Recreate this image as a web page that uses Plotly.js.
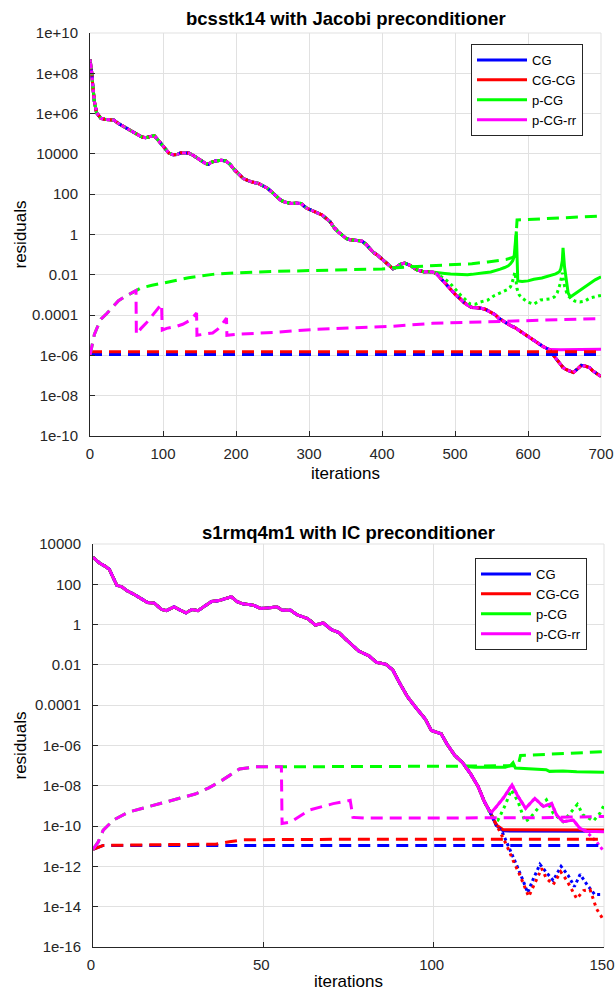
<!DOCTYPE html>
<html>
<head>
<meta charset="utf-8">
<script src="https://cdn.plot.ly/plotly-3.0.1.min.js"></script>
<style>
  html, body { margin: 0; padding: 0; background: #fff; }
  #chart { width: 615px; height: 992px; }
</style>
</head>
<body>
<div id="chart"></div>
<script>
// ---------------- DATA: top chart (bcsstk14, Jacobi) ----------------
const topTitle = 'bcsstk14 with Jacobi preconditioner';
const botTitle = 's1rmq4m1 with IC preconditioner';
const seriesNames = ['CG', 'CG-CG', 'p-CG', 'p-CG-rr'];

const topXTicks = [0, 100, 200, 300, 400, 500, 600, 700];
const topYTicks = [1e10, 1e8, 1e6, 1e4, 1e2, 1, 1e-2, 1e-4, 1e-6, 1e-8, 1e-10];
const topYTickText = ['1e+10', '1e+08', '1e+06', '10000', '100', '1', '0.01', '0.0001', '1e-06', '1e-08', '1e-10'];

// shared residual curve (all methods coincide here)
const topIter = [0, 2, 4, 6, 9, 12, 15, 20, 28, 33, 39, 45, 50, 55, 60, 65, 70, 76, 82, 88, 92, 96, 100, 104, 108, 114, 119, 125, 130, 135, 140, 146, 152, 158, 162, 166, 172, 180, 186, 192, 198, 205, 210, 216, 222, 230, 237, 243, 248, 254, 260, 265, 270, 275, 282, 289, 293, 297, 303, 308, 313, 318, 323, 329, 334, 340, 346, 351, 356, 361, 367, 372, 378, 383, 388, 394, 400, 407, 411, 415, 420, 425, 431, 436, 439, 444, 447, 452, 458, 463, 469, 475, 480, 486, 491, 496, 501, 507, 512, 518, 523, 530, 536, 542, 549, 555, 560, 566, 571, 577, 582, 587, 592, 597, 603, 607, 611, 616, 621, 626, 630, 635, 640, 644, 648, 652, 657, 662, 667, 673, 679, 684, 688, 692, 696, 700];
const topRes = [4.8e8, 1.5e8, 2e7, 4e6, 1.1e6, 7.5e5, 5.8e5, 5.2e5, 5e5, 4.7e5, 3.2e5, 2.4e5, 1.9e5, 1.5e5, 1.15e5, 8.8e4, 7.2e4, 6.3e4, 7e4, 8.1e4, 5.5e4, 3.6e4, 2.5e4, 1.6e4, 1.1e4, 9e3, 9.3e3, 1.15e4, 1.1e4, 1.1e4, 9e3, 6.3e3, 4.8e3, 3.4e3, 3e3, 3.8e3, 4.5e3, 4.8e3, 4.5e3, 3e3, 1.6e3, 930, 600, 480, 400, 350, 260, 200, 140, 83, 55, 43, 38, 35, 36, 35, 26, 20, 16, 13.5, 11, 9.3, 6.5, 4.3, 2.3, 1.35, 0.9, 0.63, 0.55, 0.52, 0.5, 0.48, 0.33, 0.2, 0.13, 0.093, 0.06, 0.035, 0.025, 0.02, 0.024, 0.033, 0.038, 0.033, 0.029, 0.022, 0.018, 0.016, 0.014, 0.0145, 0.014, 0.011, 0.007, 0.004, 0.0024, 0.0015, 0.001, 6.5e-4, 4.3e-4, 3e-4, 2.4e-4, 2.3e-4, 2.2e-4, 1.9e-4, 1.45e-4, 1.05e-4, 7e-5, 5e-5, 3.8e-5, 2.9e-5, 2.4e-5, 1.8e-5, 1.3e-5, 1e-5, 7.5e-6, 5.8e-6, 4.5e-6, 3.4e-6, 2.7e-6, 2.2e-6, 1.9e-6, 1e-6, 6e-7, 3.5e-7, 2.5e-7, 2e-7, 1.6e-7, 1.4e-7, 2e-7, 3.2e-7, 2.9e-7, 2.5e-7, 1.8e-7, 1.4e-7, 1.1e-7, 9e-8];

// p-CG recursive residual after it leaves the shared curve
const topPcgIter = [469, 475, 486, 494, 501, 510, 517, 523, 530, 540, 549, 556, 562, 568, 573, 576, 579, 581, 583, 584, 586, 592, 600, 608, 619, 630, 638, 643, 645, 647, 648, 650, 652, 655, 658, 664, 672, 685, 692, 700];
const topPcgRes = [0.014, 0.0132, 0.0117, 0.011, 0.0105, 0.0102, 0.0102, 0.0105, 0.011, 0.0126, 0.0138, 0.0158, 0.019, 0.023, 0.028, 0.035, 0.05, 0.079, 0.4, 1.41, 0.005, 0.0046, 0.005, 0.006, 0.0069, 0.0087, 0.0112, 0.0141, 0.02, 0.05, 0.22, 0.025, 0.0063, 0.00126, 7.9e-4, 0.00112, 0.00178, 0.004, 0.0056, 0.0079];
// p-CG-rr recursive residual after it levels off
const topRrIter = [630, 645, 670, 700];
const topRrRes = [1.95e-6, 1.9e-6, 1.9e-6, 2e-6];
// p-CG true residual after it leaves the shared curve
const topPcgTrueIter = [486, 494, 501, 508, 515, 521, 528, 535, 545, 553, 562, 571, 576, 579, 582, 585, 588, 592, 599, 608, 617, 625, 630, 636, 640, 644, 647, 650, 654, 658, 664, 671, 678, 685, 692, 700];
const topPcgTrueRes = [0.0063, 0.00355, 0.00178, 9.5e-4, 5.6e-4, 3.5e-4, 3.5e-4, 4.5e-4, 5.6e-4, 8.9e-4, 0.00126, 0.00178, 0.0025, 0.005, 0.0135, 0.002, 0.001, 7.1e-4, 4.5e-4, 3.5e-4, 5.6e-4, 6.3e-4, 6.3e-4, 7.9e-4, 0.00126, 0.00355, 0.0126, 0.0028, 0.001, 7.1e-4, 5e-4, 4.5e-4, 5e-4, 7.1e-4, 7.9e-4, 9.5e-4];
// residual gaps (dashed)
const topGapCgIter = [0, 100, 200, 300, 400, 500, 600, 700];
const topGapCg = [1.1e-6, 1.1e-6, 1.1e-6, 1.1e-6, 1.1e-6, 1.1e-6, 1.1e-6, 1.1e-6];
const topGapCgcg = [1.5e-6, 1.5e-6, 1.5e-6, 1.5e-6, 1.5e-6, 1.5e-6, 1.5e-6, 1.5e-6];
const topGapRrIter = [0, 3, 6, 10, 15, 23, 31, 39, 47, 55, 63, 63.5, 70, 77, 84, 91, 98, 99, 105, 112, 119, 127, 135, 141, 146, 146.5, 152, 160, 168, 175, 181, 187, 187.5, 200, 254, 308, 361, 415, 469, 523, 576, 630, 700];
const topGapRr = [1e-6, 3.2e-6, 1.1e-5, 2.5e-5, 6.3e-5, 1.2e-4, 2.5e-4, 5.2e-4, 7.9e-4, 0.00112, 0.00166, 1.1e-5, 2.2e-5, 4e-5, 7.9e-5, 1.6e-4, 3.5e-4, 1.8e-5, 2.2e-5, 2.5e-5, 2.8e-5, 3.5e-5, 5e-5, 7.9e-5, 1.26e-4, 1e-5, 1.07e-5, 1.17e-5, 1.3e-5, 2e-5, 3.5e-5, 7.1e-5, 1e-5, 1.1e-5, 1.4e-5, 1.95e-5, 2.3e-5, 2.8e-5, 3.9e-5, 4.5e-5, 5e-5, 5.6e-5, 6.8e-5];
const topGapPcgIter = [70, 85, 103, 120, 135, 150, 168, 185, 200, 230, 254, 300, 350, 400, 430, 470, 500, 523, 545, 560, 570, 578, 582, 585, 600, 630, 660, 700];
const topGapPcg = [0.00224, 0.003, 0.0042, 0.0056, 0.0071, 0.0085, 0.0105, 0.0117, 0.0126, 0.0138, 0.0148, 0.0162, 0.0178, 0.0195, 0.024, 0.0275, 0.0316, 0.0355, 0.0437, 0.05, 0.0575, 0.0708, 0.083, 5.25, 5.6, 6.3, 7.2, 8.3];

// ---------------- DATA: bottom chart (s1rmq4m1, IC) ----------------
const botXTicks = [0, 50, 100, 150];
const botYTicks = [1e4, 1e2, 1, 1e-2, 1e-4, 1e-6, 1e-8, 1e-10, 1e-12, 1e-14, 1e-16];
const botYTickText = ['10000', '100', '1', '0.01', '0.0001', '1e-06', '1e-08', '1e-10', '1e-12', '1e-14', '1e-16'];

const botIter = [0, 1, 2, 3.5, 4.8, 6, 7, 8.5, 10, 12, 14, 16, 18, 20, 21.5, 23.8, 25.6, 27.3, 29, 30.8, 32.5, 34.8, 37, 38.8, 40.6, 42.3, 44, 47, 49.2, 52, 54, 55.5, 58, 60, 63, 65.3, 67.6, 70, 72.2, 74, 75.7, 78, 81, 83.2, 86, 88, 90, 92.4, 94.7, 97.6, 99.3, 100.5, 102.2, 104, 106.2, 108.5, 110.8, 113.1, 114.9, 116.5];
const botRes = [2200, 1600, 1100, 800, 550, 200, 89, 74, 48, 32, 21, 12.6, 11.5, 5.8, 4.9, 7.6, 5.2, 3.8, 5.6, 4.9, 7.6, 14, 15.5, 18.6, 24, 13.8, 10.7, 9.3, 6.3, 6.9, 7.6, 5.2, 5.1, 3.0, 2.0, 0.95, 1.2, 0.56, 0.4, 0.2, 0.105, 0.049, 0.028, 0.0135, 0.0107, 0.0056, 0.00126, 2.5e-4, 7.9e-5, 2e-5, 5.6e-6, 4.8e-6, 3.8e-6, 1.12e-6, 3.2e-7, 1.4e-7, 4e-8, 8.9e-9, 1.6e-9, 5.2e-10];

const botCgIter = [118.4, 120.4, 130, 140, 150];
const botCgRes = [1.07e-10, 5.8e-11, 5.6e-11, 5.6e-11, 5.6e-11];
const botCgcgIter = [118.4, 120.4, 130, 140, 150];
const botCgcgRes = [1.12e-10, 6.6e-11, 6.4e-11, 6.4e-11, 6.4e-11];
const botPcgIter = [109.5, 112, 116, 121, 122.5, 123.3, 124, 127, 130, 133, 134, 138, 142, 146, 150];
const botPcgRes = [8.9e-8, 8.3e-8, 8.3e-8, 8.3e-8, 1e-7, 1.4e-7, 7.6e-8, 7.2e-8, 6.9e-8, 6.3e-8, 5.2e-8, 5.4e-8, 5e-8, 5e-8, 4.7e-8];
const botRrIter = [117, 118, 120.4, 123, 124.8, 127, 129.7, 132.2, 134.6, 136.1, 138, 141, 142.9, 144.9, 147, 150];
const botRrRes = [5e-10, 7.6e-10, 2.4e-9, 1.1e-8, 2.9e-9, 7.6e-10, 2.4e-9, 9.3e-10, 1.35e-9, 3.5e-10, 1.66e-10, 2e-10, 7.8e-11, 5.6e-11, 5.4e-11, 5.2e-11];

const botCgTrueIter = [118.4, 120, 122, 124, 126, 127.6, 129.3, 131.2, 133.1, 135.1, 137.4, 139.5, 141.3, 143, 145, 147.3, 149.3];
const botCgTrueRes = [1.07e-10, 5.6e-11, 1e-11, 1.6e-12, 2.5e-13, 5e-14, 2.5e-13, 1.26e-12, 5e-13, 2e-13, 1e-12, 3.5e-13, 1e-13, 4e-13, 1.26e-13, 4e-14, 4e-14];
const botCgcgTrueIter = [118.4, 119.4, 121.4, 123.3, 125.3, 127.9, 129.7, 131.7, 133.1, 135.1, 137.3, 139, 142, 144, 145.9, 147.8, 150];
const botCgcgTrueRes = [1.12e-10, 5.2e-11, 1.15e-11, 2e-12, 3.7e-13, 3.2e-14, 1.6e-13, 7.9e-13, 2.5e-13, 1.26e-13, 5.4e-13, 2.1e-13, 2.5e-14, 6.3e-14, 7.1e-14, 7.9e-15, 2e-15];
const botPcgTrueIter = [117, 118.9, 121, 122.8, 124.8, 126.8, 128.2, 130.2, 133.1, 135.1, 138, 140.5, 142.2, 143.9, 146.9, 148.8, 150];
const botPcgTrueRes = [3e-10, 2e-10, 1.1e-9, 6.3e-9, 1.6e-9, 1.66e-10, 2.4e-10, 6.3e-10, 2e-9, 4.3e-10, 1.66e-10, 5.2e-10, 1.2e-9, 3.5e-10, 1.8e-10, 4.3e-10, 1.1e-9];
const botRrTrueIter = [144.9, 147.8, 150];
const botRrTrueRes = [5.2e-11, 1.66e-11, 5.4e-12];

const botGapCgIter = [0, 3, 50, 100, 150];
const botGapCg = [7e-12, 1.1e-11, 1.1e-11, 1.1e-11, 1.1e-11];
const botGapCgcgIter = [0, 3, 20, 36, 40, 44, 70, 100, 150];
const botGapCgcg = [7e-12, 1.1e-11, 1.2e-11, 1.26e-11, 1.66e-11, 2.1e-11, 2.2e-11, 2.2e-11, 2.2e-11];
const botGapRrIter = [0, 1.5, 3, 6, 10.5, 16, 21, 26, 30, 34, 37, 40, 43, 47.5, 53, 55.3, 55.5, 58, 63.6, 70.5, 75.5, 76.3, 80, 90, 100, 110, 120, 130, 140, 150];
const botGapRr = [7e-12, 1.6e-11, 6.3e-11, 2e-10, 5e-10, 8.9e-10, 1.5e-9, 2.4e-9, 3.9e-9, 7.9e-9, 1.5e-8, 3.2e-8, 6.8e-8, 8.7e-8, 8.7e-8, 8.7e-8, 1.35e-10, 1.6e-10, 6.3e-10, 1.3e-9, 1.9e-9, 2.7e-10, 2.5e-10, 2.5e-10, 2.5e-10, 2.5e-10, 2.5e-10, 2.6e-10, 2.8e-10, 3e-10];
const botGapPcgIter = [60, 70, 80, 90, 100, 110, 118, 124.8, 125.5, 130, 140, 150];
const botGapPcg = [8.7e-8, 8.9e-8, 8.9e-8, 9.1e-8, 9.3e-8, 9.5e-8, 9.5e-8, 1e-7, 3.2e-7, 3.5e-7, 4.2e-7, 4.9e-7];

// ---------------- styling ----------------
const colors = { 'CG': '#0000ff', 'CG-CG': '#ff0000', 'p-CG': '#00ff00', 'p-CG-rr': '#ff00ff' };
const FONT = 'Liberation Sans, Arial, Helvetica, sans-serif';
const DASH = '12px,7px';

// keep prefix of (xa, ya) up to cutoff, then append tail
function join(xa, ya, cutoff, xt, yt) {
  const x = [], y = [];
  for (let i = 0; i < xa.length; i++) if (xa[i] <= cutoff) { x.push(xa[i]); y.push(ya[i]); }
  return { x: x.concat(xt), y: y.concat(yt) };
}
function tr(s, name, dash, xa, ya, legend, rank) {
  return {
    type: 'scatter', mode: 'lines', x: s.x, y: s.y,
    name: name, xaxis: xa, yaxis: ya,
    line: { color: colors[name], width: 3, dash: dash },
    showlegend: !!legend, legend: legend || 'legend', legendrank: rank || 1000,
    hoverinfo: 'skip'
  };
}

// ---- top traces
const tMain = { x: topIter, y: topRes };
const tPcg = join(topIter, topRes, 463, topPcgIter, topPcgRes);
const tRr = join(topIter, topRes, 626, topRrIter, topRrRes);
const tPcgTrue = join(topIter, topRes, 475, topPcgTrueIter, topPcgTrueRes);
const tGapRr = { x: topGapRrIter, y: topGapRr };
const tGapPcg = join(topGapRrIter, topGapRr, 63, topGapPcgIter, topGapPcg);

const traces = [
  tr(tMain, 'CG', 'solid', 'x', 'y', 'legend', 1),
  tr(tMain, 'CG-CG', 'solid', 'x', 'y', 'legend', 2),
  tr(tPcg, 'p-CG', 'solid', 'x', 'y', 'legend', 3),
  tr(tRr, 'p-CG-rr', 'solid', 'x', 'y', 'legend', 4),
  tr(tMain, 'CG', '3px,5px', 'x', 'y'),
  tr(tMain, 'CG-CG', '3px,4px', 'x', 'y'),
  tr(tPcgTrue, 'p-CG', '3px,3.5px', 'x', 'y'),
  tr(tMain, 'p-CG-rr', '3px,3px', 'x', 'y'),
  tr({ x: topGapCgIter, y: topGapCg }, 'CG', DASH, 'x', 'y'),
  tr({ x: topGapCgIter, y: topGapCgcg }, 'CG-CG', DASH, 'x', 'y'),
  tr(tGapPcg, 'p-CG', DASH, 'x', 'y'),
  tr(tGapRr, 'p-CG-rr', DASH, 'x', 'y')
];

// ---- bottom traces
const bCg = join(botIter, botRes, 116.5, botCgIter, botCgRes);
const bCgcg = join(botIter, botRes, 116.5, botCgcgIter, botCgcgRes);
const bPcg = join(botIter, botRes, 108.5, botPcgIter, botPcgRes);
const bRr = join(botIter, botRes, 116.5, botRrIter, botRrRes);
const bCgTrue = join(botIter, botRes, 116.5, botCgTrueIter, botCgTrueRes);
const bCgcgTrue = join(botIter, botRes, 116.5, botCgcgTrueIter, botCgcgTrueRes);
const bPcgTrue = join(botIter, botRes, 114.9, botPcgTrueIter, botPcgTrueRes);
const bRrTrue = join(bRr.x, bRr.y, 142.9, botRrTrueIter, botRrTrueRes);
const bGapRr = { x: botGapRrIter, y: botGapRr };
const bGapPcg = join(botGapRrIter, botGapRr, 55.3, botGapPcgIter, botGapPcg);

traces.push(
  tr(bCg, 'CG', 'solid', 'x2', 'y2', 'legend2', 1),
  tr(bCgcg, 'CG-CG', 'solid', 'x2', 'y2', 'legend2', 2),
  tr(bPcg, 'p-CG', 'solid', 'x2', 'y2', 'legend2', 3),
  tr(bRrTrue, 'p-CG-rr', '3px,3px', 'x2', 'y2'),
  tr(bCgTrue, 'CG', '3px,3px', 'x2', 'y2'),
  tr(bCgcgTrue, 'CG-CG', '3px,4px', 'x2', 'y2'),
  tr(bPcgTrue, 'p-CG', '3px,4px', 'x2', 'y2'),
  tr({ x: botGapCgIter, y: botGapCg }, 'CG', DASH, 'x2', 'y2'),
  tr({ x: botGapCgcgIter, y: botGapCgcg }, 'CG-CG', DASH, 'x2', 'y2'),
  tr(bGapPcg, 'p-CG', DASH, 'x2', 'y2'),
  tr(bGapRr, 'p-CG-rr', DASH, 'x2', 'y2'),
  tr(bRr, 'p-CG-rr', 'solid', 'x2', 'y2', 'legend2', 4)
);

// ---------------- layout ----------------
const W = 615, H = 992;
const px = v => v / W, py = v => 1 - v / H;
const axisCommon = {
  showline: true, linecolor: '#262626', linewidth: 1,
  ticks: 'inside', ticklen: 5, tickcolor: '#262626', tickwidth: 1,
  showgrid: true, gridcolor: '#e1e1e1', gridwidth: 1, zeroline: false,
  tickfont: { family: FONT, size: 15, color: '#262626' },
  fixedrange: true
};
const legendCommon = {
  bgcolor: '#ffffff', bordercolor: '#262626', borderwidth: 1,
  font: { family: FONT, size: 13, color: '#000' },
  xanchor: 'left', yanchor: 'top', traceorder: 'normal', tracegroupgap: 0,
  itemwidth: 50
};
const ann = (text, x, y, size, angle, yanchor) => ({
  text: text, x: x, y: y, xref: 'paper', yref: 'paper', showarrow: false,
  xanchor: 'center', yanchor: yanchor || 'middle', textangle: angle || 0, borderpad: 0,
  font: { family: FONT, size: size, color: '#000' }
});
// light box edges (top and right) like the reference axes frame
const edge = (xr, yr, x0, y0, x1, y1) => ({
  type: 'line', xref: xr, yref: yr, x0: x0, y0: y0, x1: x1, y1: y1,
  line: { color: '#e1e1e1', width: 1 }, layer: 'below'
});

const layout = {
  width: W, height: H, margin: { l: 0, r: 0, t: 0, b: 0 },
  paper_bgcolor: '#fff', plot_bgcolor: '#fff', showlegend: true,
  xaxis: Object.assign({}, axisCommon, { domain: [px(90), px(601)], range: [0, 700], anchor: 'y', tickvals: topXTicks, ticklabelstandoff: 4, ticklabeloverflow: 'allow' }),
  yaxis: Object.assign({}, axisCommon, { type: 'log', domain: [py(436), py(33)], range: [-10, 10], anchor: 'x', tickvals: topYTicks, ticktext: topYTickText, ticklabelstandoff: 8 }),
  xaxis2: Object.assign({}, axisCommon, { domain: [px(93), px(604)], range: [0, 150], anchor: 'y2', tickvals: botXTicks, ticklabelstandoff: 4, ticklabeloverflow: 'allow', ticklabelshift: -2 }),
  yaxis2: Object.assign({}, axisCommon, { type: 'log', domain: [py(947), py(544)], range: [-16, 4], anchor: 'x2', tickvals: botYTicks, ticktext: botYTickText, ticklabelstandoff: 8 }),
  legend: Object.assign({}, legendCommon, { x: px(471), y: py(44) }),
  legend2: Object.assign({}, legendCommon, { x: px(475), y: py(558) }),
  shapes: [
    edge('x domain', 'y domain', 0, 1, 1, 1), edge('x domain', 'y domain', 1, 0, 1, 1),
    edge('x2 domain', 'y2 domain', 0, 1, 1, 1), edge('x2 domain', 'y2 domain', 1, 0, 1, 1)
  ],
  annotations: [
    ann('<b>' + topTitle + '</b>', px(345.5), py(18), 18.5),
    ann('<b>' + botTitle + '</b>', px(348.5), py(532), 18.5),
    ann('iterations', px(345.5), py(473), 17),
    ann('iterations', px(348.5), 0, 17, 0, 'bottom'),
    ann('residuals', px(20), py(234.5), 17, -90),
    ann('residuals', px(20), py(745.5), 17, -90)
  ]
};

Plotly.newPlot('chart', traces, layout, { displayModeBar: false, staticPlot: true }).then(function (gd) {
  // longer legend line samples, as in the reference
  gd.querySelectorAll('.legendlines').forEach(function (p) { p.setAttribute('d', 'M8,0h47'); });
});
</script>
</body>
</html>
